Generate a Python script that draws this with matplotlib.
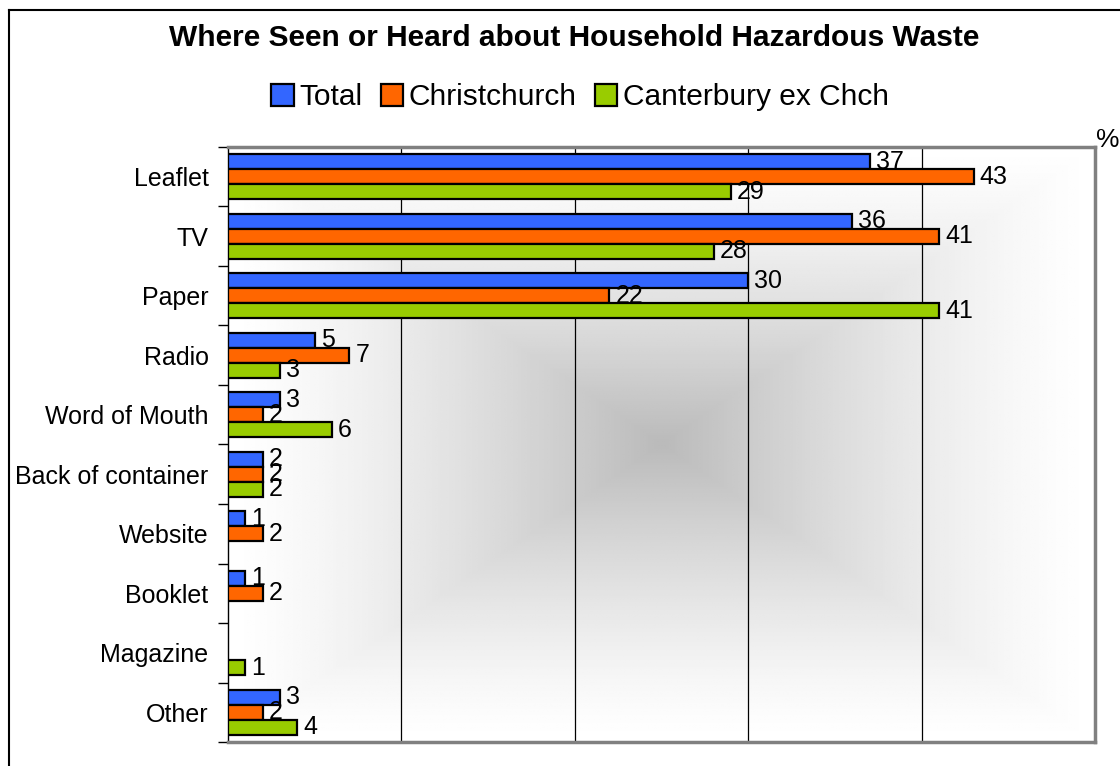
import numpy as np
import matplotlib
matplotlib.use('Agg')
import matplotlib.pyplot as plt
from matplotlib.lines import Line2D

plt.rcParams['font.family'] = ['Liberation Sans', 'DejaVu Sans']

# 데이터
categories = ['Leaflet', 'TV', 'Paper', 'Radio', 'Word of Mouth',
              'Back of container', 'Website', 'Booklet', 'Magazine', 'Other']
total = [37, 36, 30, 5, 3, 2, 1, 1, np.nan, 3]
christchurch = [43, 41, 22, 7, 2, 2, 2, 2, np.nan, 2]
canterbury = [29, 28, 41, 3, 6, 2, np.nan, np.nan, 1, 4]
series_names = ['Total', 'Christchurch', 'Canterbury ex Chch']
colors = ['#3366FF', '#FF6600', '#99CC00']

fig = plt.figure(figsize=(11.2, 7.66), dpi=100)
ax = fig.add_axes([228/1120, 1 - 742/766, (1095-228)/1120, (742-147)/766])

# 배경 그라데이션 (가운데가 어두움)
g = np.linspace(-1, 1, 300)
gx, gy = np.meshgrid(g, g)
v = np.maximum(np.abs(gx), np.abs(gy))
shade = 1 - 0.27 * (1 - v) ** 1.3
ax.imshow(shade, cmap='gray', vmin=0, vmax=1, extent=[0, 1, 0, 1],
          transform=ax.transAxes, aspect='auto', zorder=0, interpolation='bilinear')

n = len(categories)
y = np.arange(n)
h = 0.25
for i, (vals, c) in enumerate(zip([total, christchurch, canterbury], colors)):
    pos = y - h + i * h
    ax.barh(pos, vals, height=h, color=c, edgecolor='black', linewidth=1.6,
            label=series_names[i], zorder=3)
    for p, val in zip(pos, vals):
        if not np.isnan(val):
            ax.text(val + 0.35, p, f'{val:g}', va='center', ha='left',
                    fontsize=18, zorder=4)

ax.set_xlim(0, 50)
ax.set_ylim(n - 0.5, -0.5)
for gxv in [10, 20, 30, 40]:
    ax.axvline(gxv, color='black', linewidth=0.9, zorder=1)

ax.set_xticks([])
ax.set_yticks(y)
ax.set_yticklabels(categories, fontsize=18)
ax.tick_params(axis='y', which='major', length=0, pad=14)
ax.set_yticks(np.arange(-0.5, n), minor=True)
ax.tick_params(axis='y', which='minor', length=7, width=1, direction='out')

for s in ['top', 'right', 'bottom']:
    ax.spines[s].set_color('#808080')
    ax.spines[s].set_linewidth(2.5)
ax.spines['left'].set_color('black')
ax.spines['left'].set_linewidth(1)

fig.text(0.513, 1 - 38/766, 'Where Seen or Heard about Household Hazardous Waste',
         ha='center', va='center', fontsize=21.5, fontweight='bold')
fig.legend(loc='center', bbox_to_anchor=(0.518, 1 - 97/766), ncol=3, frameon=False,
           fontsize=21.5, handlelength=0.75, handleheight=0.75, handletextpad=0.2,
           columnspacing=0.6)
fig.text(1108/1120, 1 - 140/766, '%', ha='center', va='center', fontsize=19)

# 차트 테두리 (위쪽과 왼쪽만 보임)
fig.lines.append(Line2D([9/1120, 1], [1 - 10/766, 1 - 10/766], transform=fig.transFigure,
                        color='black', linewidth=1.5))
fig.lines.append(Line2D([9/1120, 9/1120], [0, 1 - 10/766], transform=fig.transFigure,
                        color='black', linewidth=1.5))

fig.savefig('out.png', dpi=100)
